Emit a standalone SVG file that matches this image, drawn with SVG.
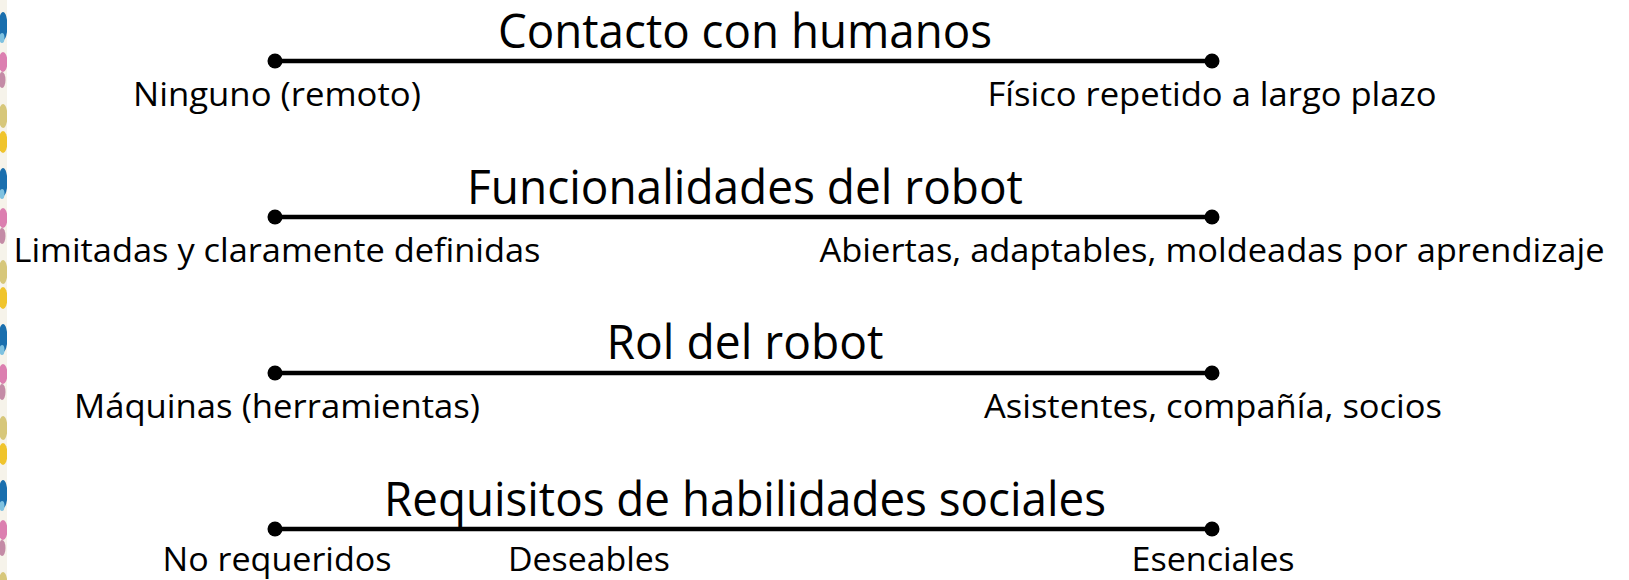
<svg xmlns="http://www.w3.org/2000/svg" width="1629" height="580" viewBox="0 0 1629 580">
<defs>
<style>
.t{font-family:"Open Sans","Liberation Sans",sans-serif;font-size:47px;fill:#000;text-anchor:middle}
.l{font-family:"Open Sans","Liberation Sans",sans-serif;font-size:33px;fill:#000;text-anchor:middle}
.ax{stroke:#000;stroke-width:4.5;fill:none}
.d{fill:#000}
</style>
<pattern id="border" x="0" y="0" width="8" height="156" patternUnits="userSpaceOnUse">
<rect x="0" y="0" width="8" height="156" fill="#f6f3ea"/>
<ellipse cx="3" cy="26" rx="4.5" ry="14" fill="#1a6fae"/>
<ellipse cx="2" cy="38" rx="2.5" ry="5" fill="#7fc2e0"/>
<ellipse cx="3" cy="62" rx="4.5" ry="10" fill="#dc7fb0"/>
<ellipse cx="2" cy="80" rx="3.5" ry="8" fill="#c48ba6"/>
<ellipse cx="3" cy="116" rx="4.5" ry="12" fill="#d7c77a"/>
<ellipse cx="3" cy="142" rx="4.5" ry="11" fill="#f0c42c"/>
</pattern>
</defs>
<rect x="0" y="0" width="1629" height="580" fill="#fff"/>
<rect id="left-border" x="0" y="0" width="7" height="580" fill="url(#border)"/>
<g id="connectors">
<line class="ax" x1="275" y1="61" x2="1212" y2="61"/>
<line class="ax" x1="275" y1="217" x2="1212" y2="217"/>
<line class="ax" x1="275" y1="373" x2="1212" y2="373"/>
<line class="ax" x1="275" y1="529" x2="1212" y2="529"/>
</g>
<g id="scale-contacto">
<text class="t" x="745" y="48" textLength="494" lengthAdjust="spacingAndGlyphs">Contacto con humanos</text>
<circle class="d" cx="275" cy="61" r="7.5"/>
<circle class="d" cx="1212" cy="61" r="7.5"/>
<text class="l" x="277" y="106" textLength="288" lengthAdjust="spacingAndGlyphs">Ninguno (remoto)</text>
<text class="l" x="1212" y="106" textLength="449" lengthAdjust="spacingAndGlyphs">Físico repetido a largo plazo</text>
</g>
<g id="scale-funcionalidades">
<text class="t" x="745" y="204" textLength="556" lengthAdjust="spacingAndGlyphs">Funcionalidades del robot</text>
<circle class="d" cx="275" cy="217" r="7.5"/>
<circle class="d" cx="1212" cy="217" r="7.5"/>
<text class="l" x="277" y="262" textLength="527" lengthAdjust="spacingAndGlyphs">Limitadas y claramente definidas</text>
<text class="l" x="1212" y="262" textLength="785" lengthAdjust="spacingAndGlyphs">Abiertas, adaptables, moldeadas por aprendizaje</text>
</g>
<g id="scale-rol">
<text class="t" x="745" y="359" textLength="277" lengthAdjust="spacingAndGlyphs">Rol del robot</text>
<circle class="d" cx="275" cy="373" r="7.5"/>
<circle class="d" cx="1212" cy="373" r="7.5"/>
<text class="l" x="277" y="418" textLength="406" lengthAdjust="spacingAndGlyphs">Máquinas (herramientas)</text>
<text class="l" x="1213" y="418" textLength="458" lengthAdjust="spacingAndGlyphs">Asistentes, compañía, socios</text>
</g>
<g id="scale-requisitos">
<text class="t" x="745" y="516" textLength="722" lengthAdjust="spacingAndGlyphs">Requisitos de habilidades sociales</text>
<circle class="d" cx="275" cy="529" r="7.5"/>
<circle class="d" cx="1212" cy="529" r="7.5"/>
<text class="l" x="277" y="571" textLength="229" lengthAdjust="spacingAndGlyphs">No requeridos</text>
<text class="l" x="589" y="571" textLength="162" lengthAdjust="spacingAndGlyphs">Deseables</text>
<text class="l" x="1213" y="571" textLength="163" lengthAdjust="spacingAndGlyphs">Esenciales</text>
</g>
</svg>
